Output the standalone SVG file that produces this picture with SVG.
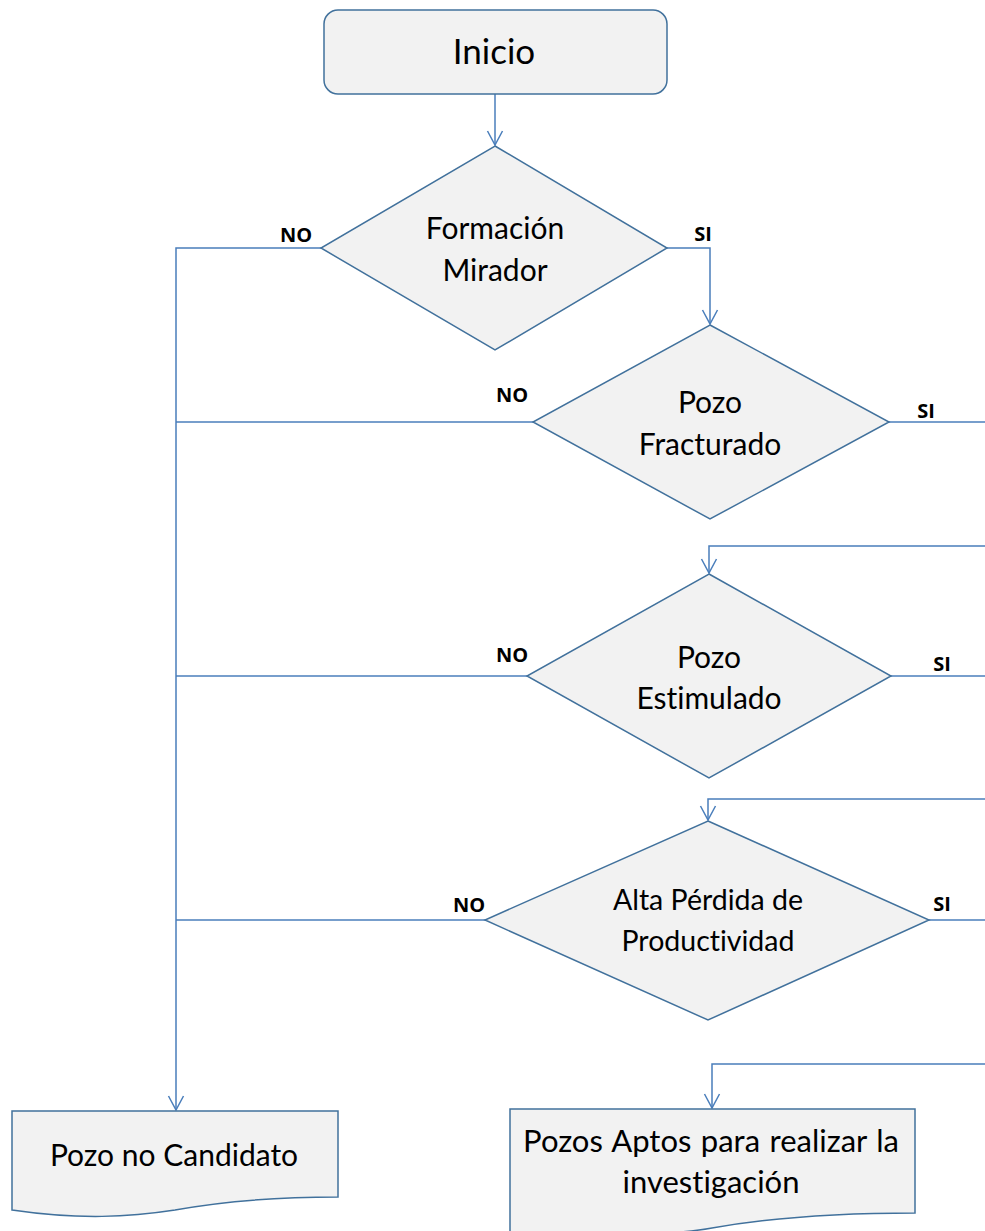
<svg xmlns="http://www.w3.org/2000/svg" width="985" height="1231" viewBox="0 0 985 1231">
  <style>
    .shape { fill: #f2f2f2; stroke: #41719c; stroke-width: 1.5; }
    .conn { fill: none; stroke: #4a7ebb; stroke-width: 1.5; }
    .txt { font-family: Lato, "Open Sans", sans-serif; fill: #000; text-anchor: middle; font-variant-ligatures: none; }
    .lbl { font-family: "Open Sans", Lato, sans-serif; font-weight: bold; font-size: 20px; fill: #000; text-anchor: middle; }
  </style>
  <defs>
    <marker id="arrow" viewBox="0 0 16 18" refX="15" refY="9" markerWidth="16" markerHeight="18" markerUnits="userSpaceOnUse" orient="auto">
      <polyline points="1,1.5 15,9 1,16.5" fill="none" stroke="#4a7ebb" stroke-width="1.5"/>
    </marker>
  </defs>

  <rect width="985" height="1231" fill="#ffffff"/>

  <!-- connectors -->
  <g id="connectors">
    <path class="conn" d="M495,94 V145" marker-end="url(#arrow)"/>
    <!-- NO branches collect into the left trunk -->
    <path class="conn" d="M321,248 H176 V1110" marker-end="url(#arrow)"/>
    <path class="conn" d="M533,422 H176"/>
    <path class="conn" d="M527,676 H176"/>
    <path class="conn" d="M485,920 H176"/>
    <!-- SI branches -->
    <path class="conn" d="M667,248 H710 V324" marker-end="url(#arrow)"/>
    <path class="conn" d="M889,422 H985"/>
    <path class="conn" d="M985,546 H709 V573" marker-end="url(#arrow)"/>
    <path class="conn" d="M891,676 H985"/>
    <path class="conn" d="M985,799 H708 V820" marker-end="url(#arrow)"/>
    <path class="conn" d="M929,920 H985"/>
    <path class="conn" d="M985,1064 H712 V1108" marker-end="url(#arrow)"/>
    <!-- branch labels -->
    <text class="lbl" x="296" y="242">NO</text>
    <text class="lbl" x="703" y="241">SI</text>
    <text class="lbl" x="512" y="402">NO</text>
    <text class="lbl" x="926" y="418">SI</text>
    <text class="lbl" x="512" y="662">NO</text>
    <text class="lbl" x="942" y="671">SI</text>
    <text class="lbl" x="469" y="912">NO</text>
    <text class="lbl" x="942" y="911">SI</text>
  </g>

  <g id="inicio">
    <rect class="shape" x="324" y="10" width="343" height="84" rx="14" ry="14"/>
    <text class="txt" x="494" y="64" font-size="35">Inicio</text>
  </g>

  <g id="formacion-mirador">
    <polygon class="shape" points="495,146 667,248 495,350 321,248"/>
    <text class="txt" x="495" y="239" font-size="30">Formación</text>
    <text class="txt" x="495" y="281" font-size="30">Mirador</text>
  </g>

  <g id="pozo-fracturado">
    <polygon class="shape" points="710,325 889,422 710,519 533,422"/>
    <text class="txt" x="710" y="413" font-size="30">Pozo</text>
    <text class="txt" x="710" y="455" font-size="30">Fracturado</text>
  </g>

  <g id="pozo-estimulado">
    <polygon class="shape" points="709,574 891,676 709,778 527,676"/>
    <text class="txt" x="709" y="668" font-size="30">Pozo</text>
    <text class="txt" x="709" y="709" font-size="30">Estimulado</text>
  </g>

  <g id="alta-perdida">
    <polygon class="shape" points="708,821 929,920 708,1020 485,920"/>
    <text class="txt" x="708" y="910" font-size="28.5">Alta Pérdida de</text>
    <text class="txt" x="708" y="951" font-size="28.5">Productividad</text>
  </g>

  <g id="pozo-no-candidato">
    <path class="shape" d="M12,1111 H338 V1197 C290,1197 230,1200 175,1210 C130,1217 80,1220 12,1210 Z"/>
    <text class="txt" x="174" y="1166" font-size="30">Pozo no Candidato</text>
  </g>

  <g id="pozos-aptos">
    <path class="shape" d="M510,1109 H915 V1213 C855,1213 780,1216 712,1228 C680,1234 600,1238 510,1232 Z"/>
    <text class="txt" x="711" y="1152" font-size="31" word-spacing="1.5">Pozos Aptos para realizar la</text>
    <text class="txt" x="711" y="1193" font-size="31">investigación</text>
  </g>
</svg>
